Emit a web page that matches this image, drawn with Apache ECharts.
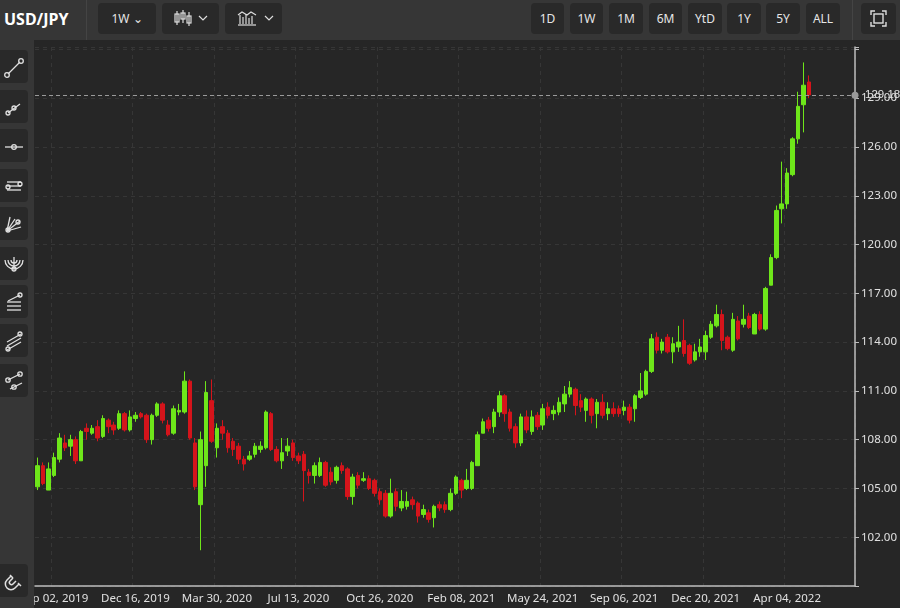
<!DOCTYPE html>
<html><head><meta charset="utf-8">
<script src="https://cdn.jsdelivr.net/npm/echarts@6/dist/echarts.min.js"></script>
<style>
html,body{margin:0;padding:0;background:#262626;overflow:hidden;font-family:"Noto Sans",sans-serif;}
#top{position:absolute;left:0;top:0;width:900px;height:40px;background:#363636;}
#left{position:absolute;left:0;top:40px;width:34px;height:568px;background:#363636;}
.btn{position:absolute;top:3px;height:31px;background:#292929;border-radius:4px;color:#e6e6e6;font-size:12px;line-height:31px;text-align:center;}
.lbtn{position:absolute;left:0;width:28px;height:33px;background:#292929;border-radius:0 4px 4px 0;}
#chart{position:absolute;left:0;top:0;width:900px;height:608px;}
</style></head><body>
<div id="chart"></div>
<div id="top">
 <div style="position:absolute;left:4px;top:0;line-height:38px;color:#fff;font-weight:bold;font-size:16px;">USD/JPY</div>
 <div style="position:absolute;left:86px;top:0;width:1px;height:40px;background:#444"></div>
 <div class="btn" style="left:98px;width:58px;">1W &#8964;</div>
 <div class="btn" style="left:162px;width:57px;">
  <svg width="50" height="31" viewBox="0 0 50 31"><g stroke="#ddd" fill="none" stroke-width="1.2"><line x1="11" y1="8" x2="11" y2="22"/><rect x="9" y="11" width="4" height="8"/><line x1="17" y1="7" x2="17" y2="20"/><rect x="15" y="10" width="4" height="6"/><line x1="23" y1="9" x2="23" y2="23"/><rect x="21" y="13" width="4" height="7"/><polyline points="33,13 37,17 41,13"/></g></svg></div>
 <div class="btn" style="left:225px;width:57px;">
  <svg width="50" height="31" viewBox="0 0 50 31"><g stroke="#ddd" fill="none" stroke-width="1.2"><line x1="9" y1="22" x2="27" y2="22"/><line x1="11" y1="12" x2="11" y2="21"/><line x1="14" y1="14" x2="14" y2="21"/><line x1="17" y1="11" x2="17" y2="21"/><line x1="20" y1="15" x2="20" y2="21"/><line x1="23" y1="13" x2="23" y2="21"/><polyline points="9,12 13,9 18,12 22,9 27,12"/><polyline points="36,13 40,17 44,13"/></g></svg></div>
 <div class="btn" style="left:531px;width:33px;">1D</div>
 <div class="btn" style="left:570px;width:33px;">1W</div>
 <div class="btn" style="left:609px;width:34px;">1M</div>
 <div class="btn" style="left:649px;width:33px;">6M</div>
 <div class="btn" style="left:688px;width:34px;">YtD</div>
 <div class="btn" style="left:727px;width:34px;">1Y</div>
 <div class="btn" style="left:766px;width:34px;">5Y</div>
 <div class="btn" style="left:806px;width:34px;">ALL</div>
 <div style="position:absolute;left:852px;top:0;width:1px;height:40px;background:#444"></div>
 <div class="btn" style="left:861px;width:35px;"><svg width="35" height="31" viewBox="0 0 35 31"><g stroke="#ddd" fill="none" stroke-width="1.4"><polyline points="10,12 10,8 14,8"/><polyline points="21,8 25,8 25,12"/><polyline points="25,19 25,23 21,23"/><polyline points="14,23 10,23 10,19"/><rect x="13" y="11" width="9" height="9"/></g></svg></div>
</div>
<div id="left"></div>
<script>
// weekly candles: [open, close, low, high]
var weeklyOHLC = [
[105.1,106.4,104.9,106.9],[106.4,105.3,105.2,106.6],[104.9,106.2,104.9,106.6],[105.8,106.9,105.7,107.2],
[106.8,108.1,106.6,108.4],[107.8,107.5,107.3,108.3],[107.6,108.0,107.0,108.3],[108.0,106.7,106.5,108.2],
[106.7,108.5,106.7,108.6],[108.7,108.5,108.0,109.0],[108.4,108.7,108.3,108.9],[108.8,108.1,107.9,109.2],
[108.2,109.3,108.1,109.5],[109.2,108.8,108.4,109.3],[108.9,108.6,108.3,109.1],[108.7,109.6,108.6,109.8],
[109.6,108.6,108.5,109.7],[108.6,109.4,108.5,109.8],[109.3,109.5,109.1,109.7],[109.6,109.4,109.3,109.7],
[109.5,108.0,107.8,109.6],[108.0,109.5,107.7,109.6],[109.5,110.2,109.4,110.3],[110.2,109.2,109.0,110.3],
[108.9,108.3,108.2,109.2],[108.4,109.9,108.3,110.1],[109.7,109.8,109.5,110.2],[109.7,111.6,109.6,112.2],
[111.6,108.1,108.0,111.7],[107.8,105.1,104.9,108.1],[104.0,108.0,101.2,108.5],[106.4,110.9,105.1,111.6],
[110.4,107.9,107.8,111.7],[107.5,108.7,106.9,109.0],[108.8,108.4,108.0,109.2],[108.4,107.5,107.2,108.6],
[107.9,107.4,107.0,108.1],[107.6,106.8,106.5,107.8],[106.8,106.5,106.1,107.0],[106.8,107.0,106.7,107.3],
[107.1,107.6,106.9,107.8],[107.4,107.6,107.2,107.9],[107.5,109.7,107.4,109.8],[109.6,107.4,107.3,109.7],
[107.4,106.7,106.6,107.6],[106.7,107.2,106.2,108.1],[107.3,107.6,107.0,108.1],[107.8,106.9,106.7,108.0],
[107.0,106.7,106.5,107.2],[107.1,106.1,104.2,107.3],[106.0,105.8,105.3,106.2],[105.8,106.4,105.3,106.6],
[105.8,106.6,105.7,106.9],[106.6,105.2,105.1,106.7],[106.0,105.4,105.2,106.3],[105.5,106.3,105.3,106.4],
[106.4,106.1,105.9,106.6],[106.2,104.5,104.3,106.3],[104.5,105.7,104.0,105.9],[105.8,105.2,105.0,106.0],
[105.5,105.6,105.4,106.0],[105.6,105.0,104.9,105.8],[105.5,104.7,104.5,105.6],[104.8,104.3,104.0,105.0],
[104.7,103.3,103.2,104.9],[103.3,104.7,103.2,105.6],[104.8,103.9,103.6,105.0],[103.8,104.2,103.6,104.9],
[103.9,104.2,103.7,104.8],[104.3,104.0,103.7,104.5],[104.1,103.3,102.9,104.2],[103.4,103.7,103.2,104.0],
[103.5,103.1,102.9,103.7],[103.2,103.9,102.6,104.0],[104.0,103.8,103.6,104.2],[104.0,103.7,103.5,104.2],
[103.7,104.7,103.6,105.0],[104.7,105.7,104.6,105.8],[105.5,104.9,104.4,105.6],[105.0,105.5,104.9,106.2],
[105.0,106.6,104.9,106.7],[106.4,108.3,106.4,108.5],[108.4,109.1,108.4,109.3],[109.2,108.7,108.5,109.4],
[108.8,109.7,108.4,109.9],[109.7,110.7,109.4,111.0],[110.7,109.6,109.1,110.8],[109.7,108.7,108.5,109.9],
[108.8,107.8,107.5,109.0],[107.8,109.4,107.6,109.6],[109.4,108.6,108.4,109.8],[108.5,109.4,108.3,109.8],
[109.5,108.8,108.6,109.7],[108.9,109.9,108.6,110.2],[110.0,109.5,109.3,110.3],[109.6,109.8,109.2,110.1],
[109.7,110.3,109.5,110.6],[110.2,110.8,109.7,111.3],[110.8,111.2,110.6,111.6],[111.1,110.1,109.5,111.2],
[110.4,110.0,109.7,110.8],[109.8,110.5,109.1,110.6],[110.5,109.5,109.0,110.6],[109.6,110.3,108.7,110.5],
[110.3,109.5,109.3,110.8],[109.6,109.9,109.2,110.3],[109.9,109.6,109.4,110.3],[109.9,109.6,109.4,110.1],
[109.8,110.0,109.5,110.4],[110.0,109.2,109.0,110.2],[109.9,110.7,109.1,110.8],[110.6,111.0,110.5,112.1],
[110.8,112.2,110.7,112.3],[112.2,114.2,112.1,114.5],[114.3,113.5,113.3,114.6],[113.5,114.0,113.3,114.2],
[114.3,113.4,113.3,114.5],[113.4,113.9,112.7,114.3],[113.7,114.0,113.4,115.0],[114.1,113.3,113.1,115.4],
[113.8,112.7,112.6,113.9],[112.9,113.4,112.8,113.9],[113.4,113.7,113.1,114.2],[113.4,114.4,112.9,114.7],
[114.3,115.1,114.2,115.3],[115.0,115.7,114.9,116.3],[115.7,114.1,113.5,116.0],[114.3,113.6,113.5,114.4],
[113.5,115.4,113.4,115.8],[115.3,114.2,114.1,115.6],[115.1,115.4,114.9,116.3],[115.6,114.9,114.8,115.8],
[114.5,115.7,114.5,115.8],[115.7,114.8,114.7,115.9],[114.8,117.3,114.7,117.4],[117.5,119.2,117.5,119.4],
[119.2,122.1,119.1,122.4],[122.2,122.5,121.3,125.1],[122.5,124.4,122.2,124.7],[124.3,126.5,124.2,126.6],
[126.5,128.5,126.2,129.4],[128.6,129.8,126.9,131.2],[130.0,129.2,129.0,130.4]
];
var emptyWeeksAfter = 8;
var tickIndex = [3,18,33,48,63,78,93,108,123,138];
var tickLabels = ["Sep 02, 2019","Dec 16, 2019","Mar 30, 2020","Jul 13, 2020","Oct 26, 2020","Feb 08, 2021","May 24, 2021","Sep 06, 2021","Dec 20, 2021","Apr 04, 2022"];
var lastPrice = 129.18;
var yTicks = [102,105,108,111,114,117,120,123,126,129];

var n = weeklyOHLC.length + emptyWeeksAfter;
var cats = [];
for (var i = 0; i < n; i++) cats.push(String(i));
var labelMap = {};
tickIndex.forEach(function(ix, k){ labelMap[ix] = tickLabels[k]; });
var isTick = function(ix){ return labelMap[ix] !== undefined; };

var chart = echarts.init(document.getElementById('chart'));
chart.setOption({
  backgroundColor: '#262626',
  animation: false,
  grid: {left: 35, right: 45, top: 47, bottom: 22},
  xAxis: {
    type: 'category', data: cats, boundaryGap: true,
    axisLine: {lineStyle: {color: '#bdbdbd', width: 1.5}},
    axisTick: {alignWithLabel: true, interval: function(ix){ return isTick(ix); }, lineStyle: {color: '#bdbdbd'}, length: 4},
    axisLabel: {interval: function(ix){ return isTick(ix); }, formatter: function(v, ix){ return labelMap[ix] || ''; }, color: '#e0e0e0', fontSize: 11.5, margin: 7, fontFamily: 'Noto Sans'},
    splitLine: {show: true, interval: function(ix){ return isTick(ix); }, lineStyle: {color: '#363636', type: [4, 4]}}
  },
  yAxis: {
    type: 'value', position: 'right', min: 99, max: 132.15, interval: 3, scale: true,
    axisLine: {show: true, lineStyle: {color: '#bdbdbd', width: 1.5}},
    axisTick: {show: true, length: 4, lineStyle: {color: '#bdbdbd'}},
    axisLabel: {color: '#e0e0e0', fontSize: 11.5, fontFamily: 'Noto Sans', margin: 6,
      formatter: function(v){ return yTicks.indexOf(v) >= 0 ? v.toFixed(2) : ''; }},
    splitLine: {show: true, lineStyle: {color: '#363636', type: [4, 4]}}
  },
  series: [{
    type: 'candlestick', data: weeklyOHLC, barWidth: 4,
    itemStyle: {color: '#6ee61a', color0: '#d5141b', borderColor: '#6ee61a', borderColor0: '#d5141b', borderWidth: 1},
    markLine: {
      symbol: ['none', 'circle'], symbolSize: 7, silent: true,
      lineStyle: {color: '#9a9a9a', type: [4, 3], width: 1},
      label: {show: true, position: 'end', formatter: lastPrice.toFixed(2), color: '#e0e0e0', fontSize: 11.5, distance: 10},
      data: [{yAxis: lastPrice}]
    }
  }]
});

// left drawing toolbar buttons
var left = document.getElementById('left');
var icons = [
 '<line x1="8" y1="24" x2="20" y2="12"/><circle cx="7" cy="25" r="2.3"/><circle cx="21" cy="11" r="2.3"/>',
 '<line x1="8" y1="23" x2="20" y2="14"/><circle cx="8" cy="23" r="2"/><circle cx="14" cy="18" r="2"/>',
 '<line x1="5" y1="18" x2="23" y2="18"/><circle cx="14" cy="18" r="2.3"/>',
 '<line x1="7" y1="13" x2="21" y2="13"/><line x1="7" y1="17" x2="21" y2="17"/><line x1="7" y1="21" x2="21" y2="21"/><circle cx="8" cy="18" r="2"/><circle cx="20" cy="15" r="2"/>',
 '<line x1="7" y1="24" x2="10" y2="10"/><line x1="7" y1="24" x2="15" y2="12"/><line x1="7" y1="24" x2="20" y2="14"/><line x1="7" y1="24" x2="21" y2="20"/><circle cx="8" cy="23" r="2"/><circle cx="18" cy="15" r="2"/>',
 '<path d="M5 13 A9 9 0 0 0 23 13"/><path d="M8 13 A6 6 0 0 0 20 13"/><path d="M11 13 A3 3 0 0 0 17 13"/><line x1="14" y1="10" x2="14" y2="22"/><circle cx="14" cy="22" r="2"/>',
 '<line x1="7" y1="17" x2="21" y2="17"/><line x1="7" y1="21" x2="21" y2="21"/><line x1="7" y1="25" x2="21" y2="25"/><line x1="8" y1="16" x2="20" y2="10"/><circle cx="20" cy="10" r="2"/>',
 '<line x1="7" y1="18" x2="21" y2="10"/><line x1="7" y1="22" x2="21" y2="14"/><line x1="7" y1="26" x2="21" y2="18"/><circle cx="20" cy="10" r="2"/><circle cx="8" cy="25" r="2"/>',
 '<line x1="8" y1="16" x2="20" y2="10"/><line x1="10" y1="25" x2="22" y2="19"/><circle cx="8" cy="16" r="2.2"/><circle cx="20" cy="10" r="2.2"/><circle cx="14" cy="23" r="2.2"/>'
];
var tops = [10, 50, 89, 129, 167, 207, 245, 284, 324];
icons.forEach(function(ic, k){
  var d = document.createElement('div'); d.className = 'lbtn'; d.style.top = tops[k] + 'px';
  d.innerHTML = '<svg width="28" height="33" viewBox="0 0 28 33"><g stroke="#e0e0e0" fill="none" stroke-width="1.3">' + ic + '</g></svg>';
  left.appendChild(d);
});
var mg = document.createElement('div'); mg.className = 'lbtn'; mg.style.top = '524px';
mg.innerHTML = '<svg width="28" height="33" viewBox="0 0 28 33"><g stroke="#e0e0e0" fill="none" stroke-width="1.5"><path d="M11 12 L7 16 A5 5 0 0 0 15 24 L19 20"/><line x1="10" y1="11" x2="13" y2="14"/><line x1="18" y1="19" x2="21" y2="22"/><path d="M13 14 L10 17 A2 2 0 0 0 13 20 L16 17"/></g></svg>';
left.appendChild(mg);
</script>
</body></html>
